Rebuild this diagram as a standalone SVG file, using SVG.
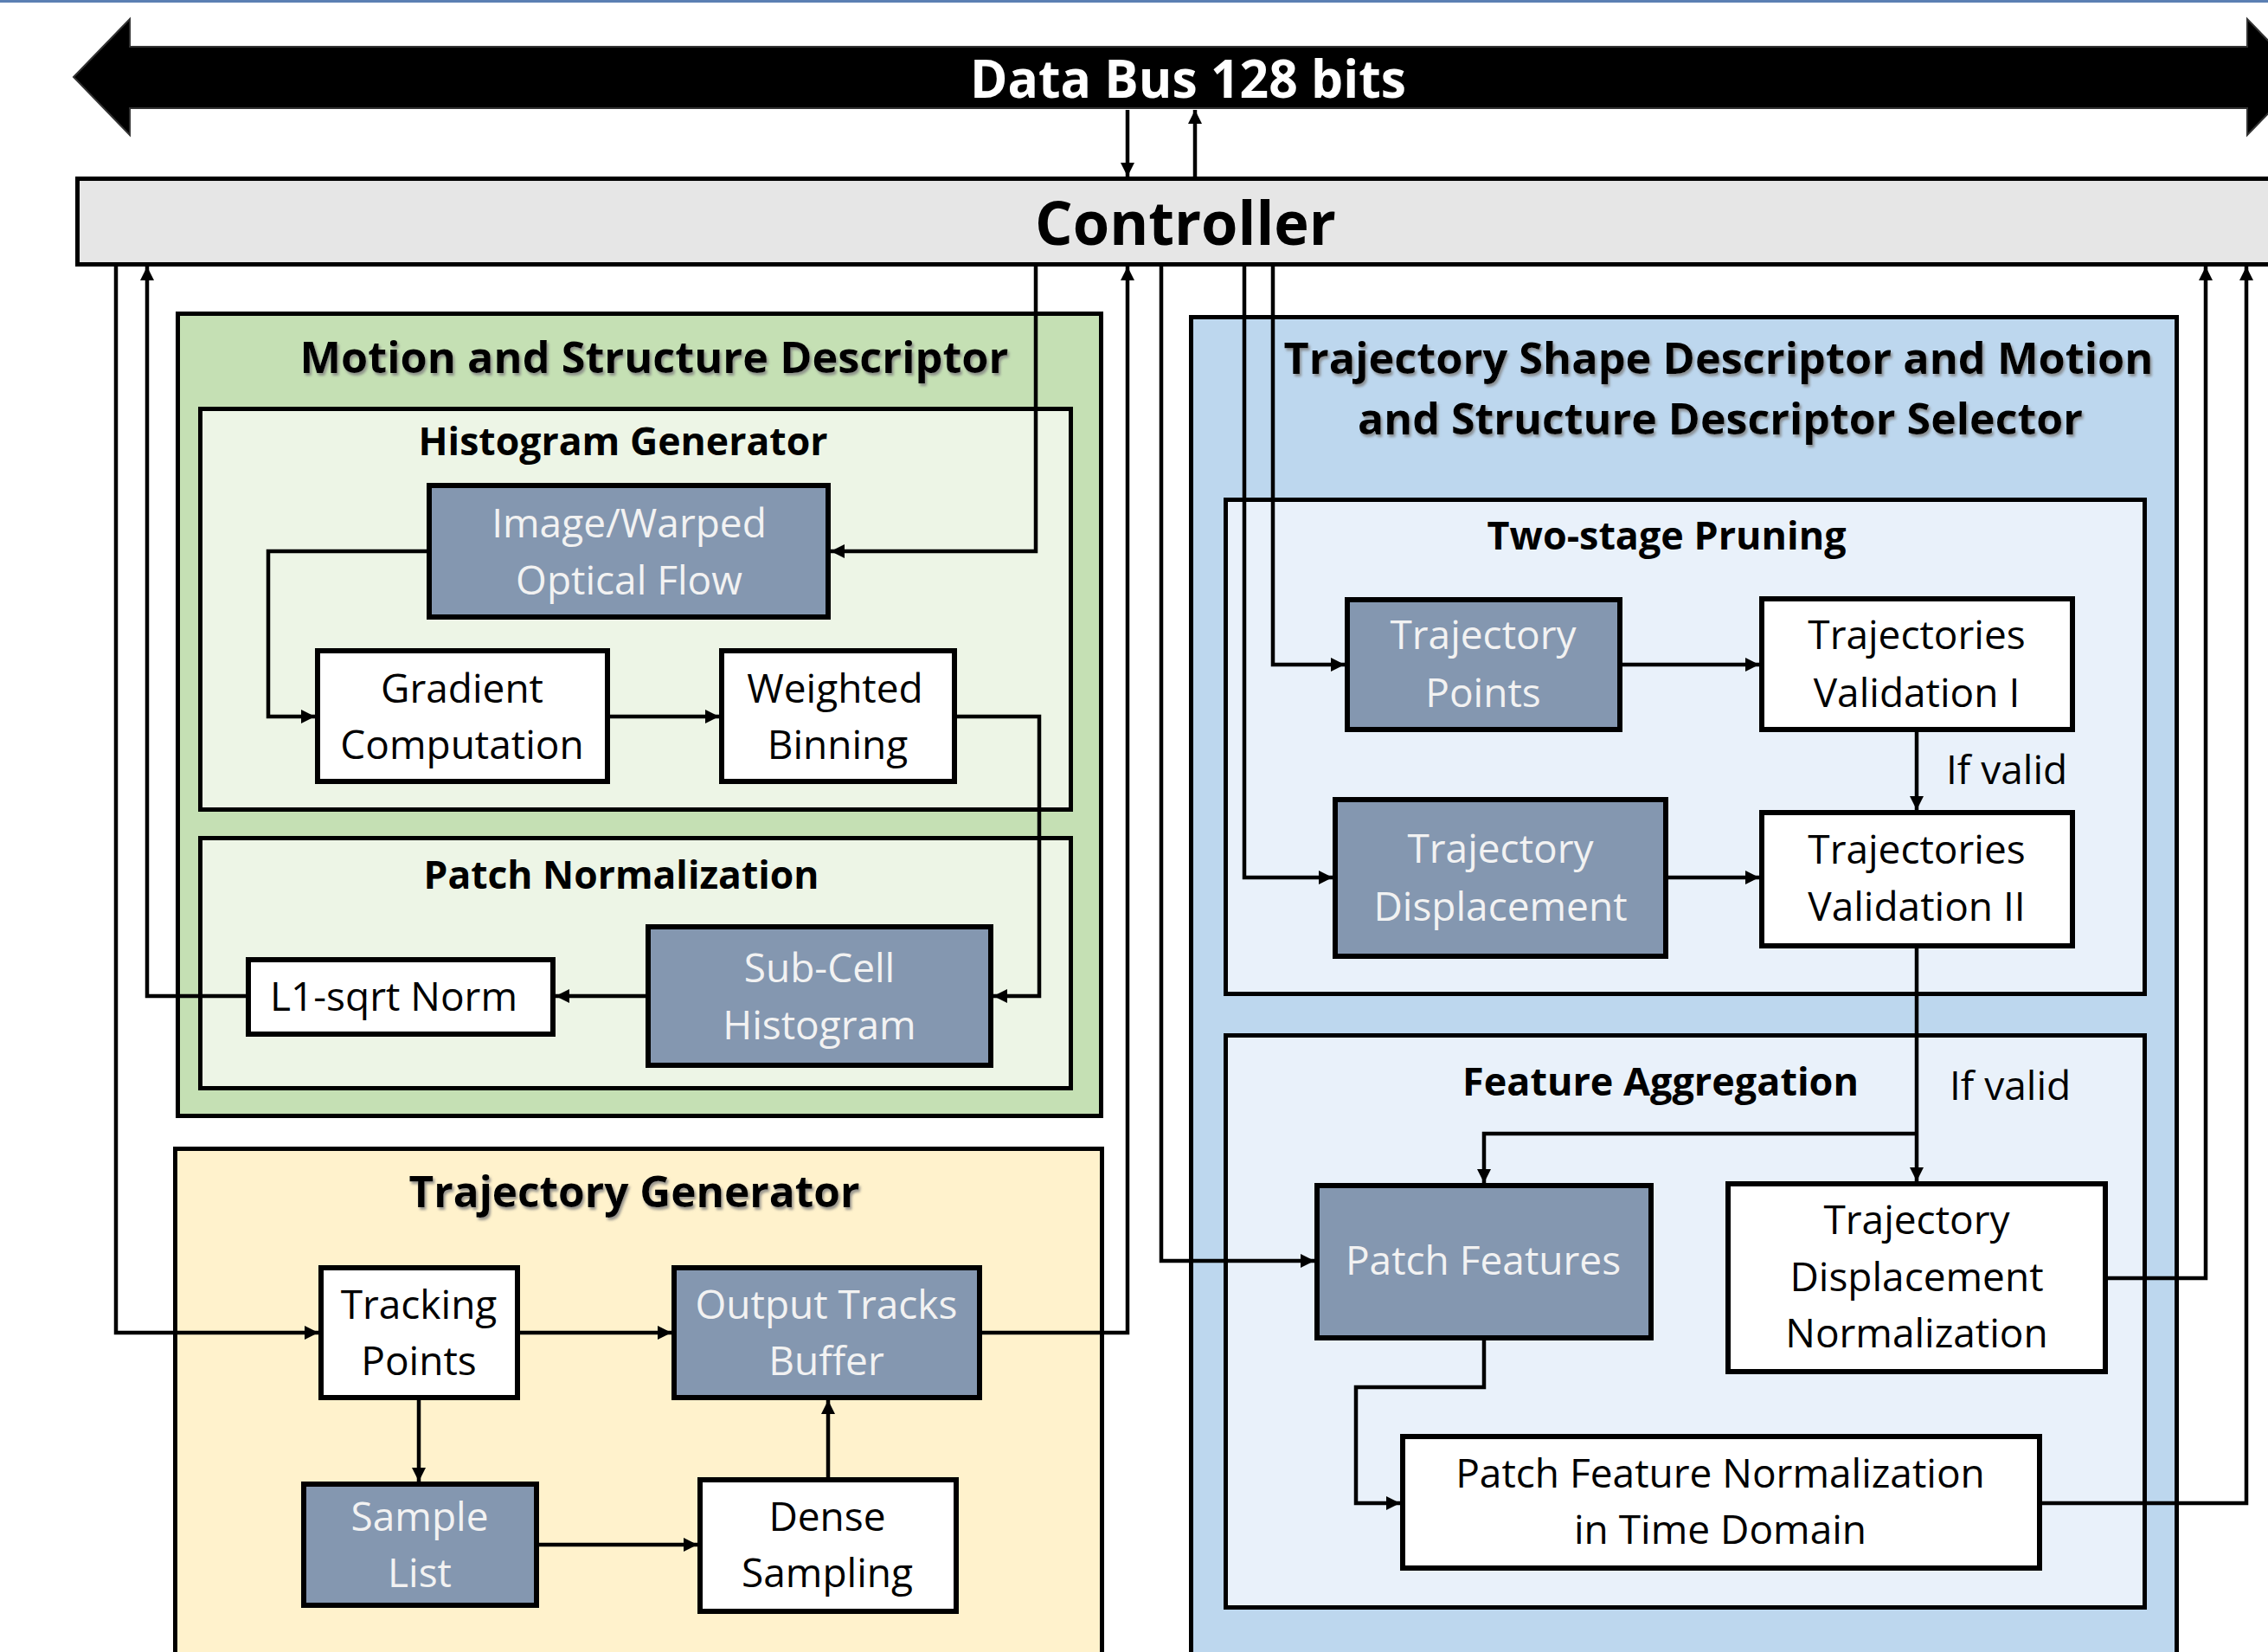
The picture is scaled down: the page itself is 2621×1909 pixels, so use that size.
<svg xmlns="http://www.w3.org/2000/svg" width="2621" height="1909" viewBox="0 0 2621 1909">
<defs>
  <marker id="ah" viewBox="0 0 10 10" refX="10" refY="5" markerWidth="18" markerHeight="16" markerUnits="userSpaceOnUse" orient="auto">
    <path d="M0,0 L10,5 L0,10 Z" fill="#000"/>
  </marker>
  <filter id="sh" x="-5%" y="-30%" width="110%" height="160%">
    <feDropShadow dx="2" dy="3" stdDeviation="1.5" flood-color="#7f7f7f" flood-opacity="0.8"/>
  </filter>
</defs>
<style>
  .cont { stroke:#000; stroke-width:5; }
  .node { stroke:#000; stroke-width:6; }
  .dark { fill:#8497b0; }
  .white { fill:#ffffff; }
  .conn { fill:none; stroke:#000; stroke-width:4.5; marker-end:url(#ah); }
  .line { fill:none; stroke:#000; stroke-width:4.5; }
  .title { font-family:"Open Sans","Noto Sans",sans-serif; font-weight:bold; fill:#000; text-anchor:middle; }
  .big { font-size:50px; }
  .sub { font-size:44px; }
  .lbl { font-family:"Open Sans","Noto Sans",sans-serif; font-size:46px; text-anchor:middle; }
  .lw { fill:#f2f2f2; }
  .lb { fill:#000; }
</style>
<rect width="2621" height="1909" fill="#ffffff"/>
<rect x="0" y="0" width="2621" height="3" fill="#5b7fb3"/>

<!-- Data bus -->
<g id="databus">
  <path d="M85,89 L150,22 L150,54 L2597,54 L2597,22 L2662,89 L2597,156 L2597,125 L150,125 L150,156 Z" fill="#000" stroke="#333" stroke-width="2"/>
  <text x="1373" y="113" class="title" font-size="60" fill="#fff" style="fill:#ffffff" textLength="504" lengthAdjust="spacingAndGlyphs">Data Bus 128 bits</text>
</g>

<!-- Controller -->
<g id="controller">
  <rect x="89.5" y="206.5" width="2600" height="99" fill="#e6e6e6" class="cont"/>
  <text x="1370" y="283" class="title" font-size="70" textLength="348" lengthAdjust="spacingAndGlyphs">Controller</text>
</g>

<!-- Containers -->
<g id="motion-structure-descriptor">
  <rect x="205.5" y="362.5" width="1067" height="927" fill="#c5e0b4" class="cont"/>
  <text x="756" y="431" class="title big" filter="url(#sh)" textLength="819" lengthAdjust="spacingAndGlyphs">Motion and Structure Descriptor</text>
</g>
<g id="histogram-generator">
  <rect x="231.5" y="472.5" width="1006" height="463" fill="#edf5e6" class="cont"/>
  <text x="720" y="526" class="title sub" textLength="473" lengthAdjust="spacingAndGlyphs">Histogram Generator</text>
</g>
<g id="patch-normalization">
  <rect x="231.5" y="968.5" width="1006" height="289" fill="#edf5e6" class="cont"/>
  <text x="718" y="1027" class="title sub" textLength="457" lengthAdjust="spacingAndGlyphs">Patch Normalization</text>
</g>
<g id="trajectory-generator">
  <rect x="202.5" y="1327.5" width="1071" height="640" fill="#fff2cc" class="cont"/>
  <text x="733" y="1395" class="title big" filter="url(#sh)" textLength="521" lengthAdjust="spacingAndGlyphs">Trajectory Generator</text>
</g>
<g id="selector">
  <rect x="1376.5" y="366.5" width="1139" height="1600" fill="#bdd7ee" class="cont"/>
  <text x="1986" y="432" class="title big" filter="url(#sh)" textLength="1005" lengthAdjust="spacingAndGlyphs">Trajectory Shape Descriptor and Motion</text>
  <text x="1988" y="502" class="title big" filter="url(#sh)" textLength="838" lengthAdjust="spacingAndGlyphs">and Structure Descriptor Selector</text>
</g>
<g id="two-stage-pruning">
  <rect x="1416.5" y="577.5" width="1062" height="571" fill="#e9f1fa" class="cont"/>
  <text x="1926" y="635" class="title sub" textLength="415" lengthAdjust="spacingAndGlyphs">Two-stage Pruning</text>
</g>
<g id="feature-aggregation">
  <rect x="1416.5" y="1196.5" width="1062" height="661" fill="#e9f1fa" class="cont"/>
  <text x="1919" y="1266" class="title sub" textLength="458" lengthAdjust="spacingAndGlyphs">Feature Aggregation</text>
</g>

<!-- Connectors -->
<g id="connectors">
  <path class="conn" d="M1303,127 V204"/>
  <path class="conn" d="M1381,204 V127"/>
  <path class="conn" d="M1197,308 V637 H960"/>
  <path class="conn" d="M493,637 H310 V828 H364"/>
  <path class="conn" d="M705,828 H831"/>
  <path class="conn" d="M1106,828 H1201 V1151 H1148"/>
  <path class="conn" d="M746,1151 H642"/>
  <path class="conn" d="M284,1151 H170 V308"/>
  <path class="conn" d="M134,308 V1540 H368"/>
  <path class="conn" d="M601,1540 H776"/>
  <path class="conn" d="M1135,1540 H1303 V308"/>
  <path class="conn" d="M484,1618 V1712"/>
  <path class="conn" d="M623,1785 H806"/>
  <path class="conn" d="M957,1707 V1618"/>
  <path class="conn" d="M1471,308 V768 H1554"/>
  <path class="conn" d="M1875,768 H2033"/>
  <path class="conn" d="M1438,308 V1014 H1540"/>
  <path class="conn" d="M1928,1014 H2033"/>
  <path class="conn" d="M2215,846 V936"/>
  <path class="conn" d="M2215,1096 V1365"/>
  <path class="conn" d="M2215,1310 H1715 V1367"/>
  <path class="conn" d="M1342,308 V1457 H1519"/>
  <path class="conn" d="M1715,1549 V1603 H1567 V1737 H1618"/>
  <path class="conn" d="M2436,1477 H2549 V308"/>
  <path class="conn" d="M2360,1737 H2596 V308"/>
  <text x="2249" y="906" class="lbl lb" style="text-anchor:start">If valid</text>
  <text x="2253" y="1271" class="lbl lb" style="text-anchor:start">If valid</text>
</g>

<!-- Nodes -->
<g id="image-warped-optical-flow">
  <rect x="496" y="561" width="461" height="152" class="node dark"/>
  <text x="727" y="621" class="lbl lw">Image/Warped</text>
  <text x="727" y="687" class="lbl lw">Optical Flow</text>
</g>
<g id="gradient-computation">
  <rect x="367" y="752" width="335" height="151" class="node white"/>
  <text x="534" y="812" class="lbl lb">Gradient</text>
  <text x="534" y="877" class="lbl lb">Computation</text>
</g>
<g id="weighted-binning">
  <rect x="834" y="752" width="269" height="151" class="node white"/>
  <text x="965" y="812" class="lbl lb">Weighted</text>
  <text x="968" y="877" class="lbl lb">Binning</text>
</g>
<g id="sub-cell-histogram">
  <rect x="749" y="1071" width="396" height="160" class="node dark"/>
  <text x="947" y="1135" class="lbl lw">Sub-Cell</text>
  <text x="947" y="1201" class="lbl lw">Histogram</text>
</g>
<g id="l1-sqrt-norm">
  <rect x="287" y="1109" width="352" height="86" class="node white"/>
  <text x="455" y="1168" class="lbl lb">L1-sqrt Norm</text>
</g>
<g id="tracking-points">
  <rect x="371" y="1465" width="227" height="150" class="node white"/>
  <text x="484" y="1524" class="lbl lb">Tracking</text>
  <text x="484" y="1589" class="lbl lb">Points</text>
</g>
<g id="output-tracks-buffer">
  <rect x="779" y="1465" width="353" height="150" class="node dark"/>
  <text x="955" y="1524" class="lbl lw">Output Tracks</text>
  <text x="955" y="1589" class="lbl lw">Buffer</text>
</g>
<g id="sample-list">
  <rect x="351" y="1715" width="269" height="140" class="node dark"/>
  <text x="485" y="1769" class="lbl lw">Sample</text>
  <text x="485" y="1834" class="lbl lw">List</text>
</g>
<g id="dense-sampling">
  <rect x="809" y="1710" width="296" height="152" class="node white"/>
  <text x="956" y="1769" class="lbl lb">Dense</text>
  <text x="956" y="1834" class="lbl lb">Sampling</text>
</g>
<g id="trajectory-points">
  <rect x="1557" y="693" width="315" height="150" class="node dark"/>
  <text x="1714" y="750" class="lbl lw">Trajectory</text>
  <text x="1714" y="817" class="lbl lw">Points</text>
</g>
<g id="trajectories-validation-1">
  <rect x="2036" y="692" width="359" height="151" class="node white"/>
  <text x="2215" y="750" class="lbl lb">Trajectories</text>
  <text x="2215" y="817" class="lbl lb">Validation I</text>
</g>
<g id="trajectory-displacement">
  <rect x="1543" y="924" width="382" height="181" class="node dark"/>
  <text x="1734" y="997" class="lbl lw">Trajectory</text>
  <text x="1734" y="1064" class="lbl lw">Displacement</text>
</g>
<g id="trajectories-validation-2">
  <rect x="2036" y="939" width="359" height="154" class="node white"/>
  <text x="2215" y="998" class="lbl lb">Trajectories</text>
  <text x="2215" y="1064" class="lbl lb">Validation II</text>
</g>
<g id="patch-features">
  <rect x="1522" y="1370" width="386" height="176" class="node dark"/>
  <text x="1714" y="1473" class="lbl lw">Patch Features</text>
</g>
<g id="trajectory-displacement-normalization">
  <rect x="1997" y="1368" width="436" height="217" class="node white"/>
  <text x="2215" y="1426" class="lbl lb">Trajectory</text>
  <text x="2215" y="1492" class="lbl lb">Displacement</text>
  <text x="2215" y="1557" class="lbl lb">Normalization</text>
</g>
<g id="patch-feature-normalization">
  <rect x="1621" y="1660" width="736" height="152" class="node white"/>
  <text x="1988" y="1719" class="lbl lb">Patch Feature Normalization</text>
  <text x="1988" y="1784" class="lbl lb">in Time Domain</text>
</g>
</svg>
